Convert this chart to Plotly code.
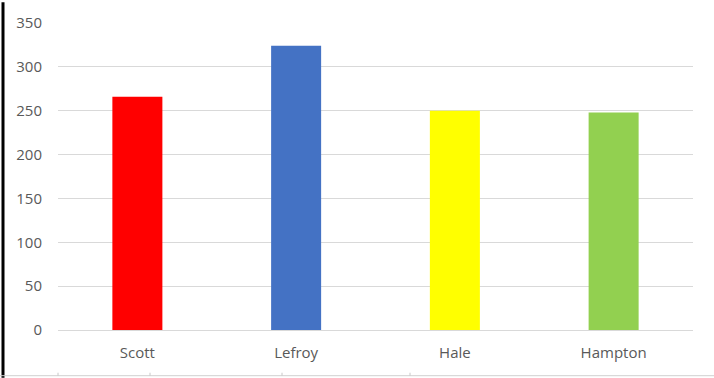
import plotly.graph_objects as go

categories = ["Scott", "Lefroy", "Hale", "Hampton"]
values = [266, 324, 250, 248]
colors = ["#FF0000", "#4472C4", "#FFFF00", "#92D050"]
y_ticks = [0, 50, 100, 150, 200, 250, 300, 350]

W, H = 714, 378
L, R, T, B = 58, 21, 21, 48
pw = W - L - R
ph = H - T - B

def px_x(x):
    return (x - L) / pw

def px_y(y):
    return (H - B - y) / ph

fig = go.Figure(go.Bar(
    x=categories, y=values, marker=dict(color=colors, line=dict(width=0)),
    width=0.315, hoverinfo="x+y"
))

shapes = [
    dict(type="line", xref="paper", yref="paper", x0=px_x(3), x1=px_x(3),
         y0=px_y(0), y1=px_y(H), line=dict(color="#000000", width=3)),
    dict(type="line", xref="paper", yref="paper", x0=px_x(0), x1=px_x(W),
         y0=px_y(376), y1=px_y(376), line=dict(color="#D0D0D0", width=1)),
]
for tx in [58, 150, 282, 410]:
    shapes.append(dict(type="line", xref="paper", yref="paper", x0=px_x(tx), x1=px_x(tx),
                       y0=px_y(373), y1=px_y(376), line=dict(color="#C8C8C8", width=1)))

fig.update_layout(
    width=W, height=H,
    margin=dict(l=L, r=R, t=T, b=B),
    paper_bgcolor="white", plot_bgcolor="white",
    showlegend=False,
    font=dict(family="Open Sans", size=15, color="#595959"),
    xaxis=dict(showgrid=False, showline=False, ticks="", ticklabelstandoff=12,
               tickfont=dict(size=15, color="#595959")),
    yaxis=dict(range=[0, 350], tickvals=y_ticks, showgrid=True, gridcolor="#D9D9D9",
               gridwidth=1, zeroline=True, zerolinecolor="#D9D9D9", zerolinewidth=1,
               showline=False, ticks="", ticklabelstandoff=15,
               tickfont=dict(size=15, color="#595959")),
    shapes=shapes,
)

fig.write_html("out.html")
